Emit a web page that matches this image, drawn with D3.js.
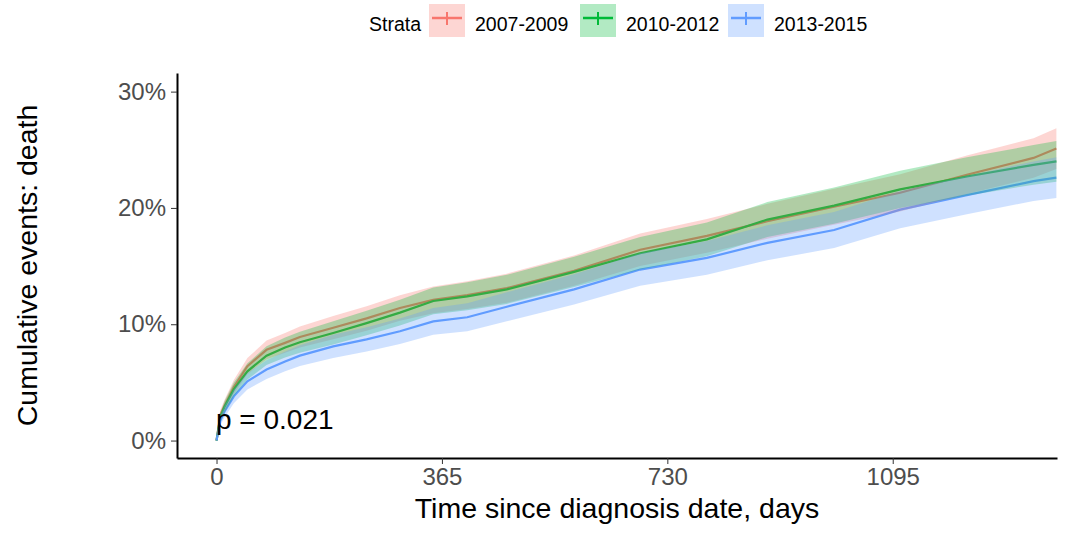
<!DOCTYPE html>
<html>
<head>
<meta charset="utf-8">
<script src="https://cdn.jsdelivr.net/npm/d3@7"></script>
<style>
  body { margin: 0; background: #fff; }
  svg { font-family: "Liberation Sans", Arial, sans-serif; }
</style>
</head>
<body>
<svg width="1066" height="533"></svg>
<script>
// time points (days)
var days = [0, 6, 13, 28, 50, 81, 111, 135, 189, 243, 297, 351, 406, 470, 579, 686, 794, 892, 1000, 1107, 1215, 1323, 1360];

// cumulative events (%) per strata
var est2007 = [0, 2.2, 3.0, 4.6, 6.4, 7.8, 8.4, 8.9, 9.7, 10.5, 11.4, 12.1, 12.5, 13.1, 14.6, 16.4, 17.6, 18.85, 20.1, 21.3, 22.85, 24.3, 25.1];
var lo2007  = [0, 1.8, 2.5, 4.0, 5.7, 7.0, 7.55, 8.0, 8.7, 9.45, 10.3, 10.95, 11.3, 11.85, 13.3, 15.0, 16.15, 17.35, 18.55, 19.7, 21.2, 22.6, 23.35];
var hi2007  = [0, 2.6, 3.5, 5.2, 7.1, 8.6, 9.25, 9.8, 10.7, 11.55, 12.5, 13.25, 13.7, 14.35, 15.9, 17.8, 19.05, 20.35, 21.65, 22.9, 24.5, 26.0, 26.85];

var est2010 = [0, 2.0, 2.9, 4.4, 5.95, 7.3, 8.0, 8.45, 9.25, 10.1, 11.0, 12.0, 12.4, 13.0, 14.5, 16.1, 17.3, 19.0, 20.2, 21.6, 22.7, 23.7, 24.0];
var lo2010  = [0, 1.6, 2.4, 3.8, 5.25, 6.5, 7.15, 7.55, 8.25, 9.05, 9.9, 10.85, 11.2, 11.75, 13.2, 14.7, 15.85, 17.5, 18.65, 20.0, 21.05, 22.0, 22.25];
var hi2010  = [0, 2.4, 3.4, 5.0, 6.65, 8.1, 8.85, 9.35, 10.25, 11.15, 12.1, 13.15, 13.6, 14.25, 15.8, 17.5, 18.75, 20.5, 21.75, 23.2, 24.35, 25.4, 25.75];

var est2013 = [0, 1.7, 2.5, 3.8, 5.1, 6.1, 6.8, 7.3, 8.1, 8.7, 9.4, 10.25, 10.6, 11.5, 13.0, 14.7, 15.7, 17.0, 18.1, 19.85, 21.1, 22.3, 22.6];
var lo2013  = [0, 1.3, 2.0, 3.2, 4.4, 5.3, 5.95, 6.4, 7.1, 7.65, 8.3, 9.1, 9.4, 10.25, 11.7, 13.3, 14.25, 15.5, 16.55, 18.25, 19.45, 20.6, 20.85];
var hi2013  = [0, 2.1, 3.0, 4.4, 5.8, 6.9, 7.65, 8.2, 9.1, 9.75, 10.5, 11.4, 11.8, 12.75, 14.3, 16.1, 17.15, 18.5, 19.65, 21.45, 22.75, 24.0, 24.35];

var strataNames = ['2007-2009', '2010-2012', '2013-2015'];
var strataColors = ['#F8766D', '#00BA38', '#619CFF'];
var xTicks = [0, 365, 730, 1095];
var yTicks = [0, 10, 20, 30];

var strata = [
  { name: strataNames[0], color: strataColors[0], est: est2007, lo: lo2007, hi: hi2007 },
  { name: strataNames[1], color: strataColors[1], est: est2010, lo: lo2010, hi: hi2010 },
  { name: strataNames[2], color: strataColors[2], est: est2013, lo: lo2013, hi: hi2013 }
];

var svg = d3.select('svg');
var pLeft = 177, pRight = 1057, pTop = 73, pBottom = 458;

var x = d3.scaleLinear().domain([-64, 1361]).range([pLeft, pRight]);
var y = d3.scaleLinear().domain([-1.5, 31.6]).range([pBottom, pTop]);

var line = function (s) {
  return d3.line()
    .x(function (d, i) { return x(days[i]); })
    .y(function (d) { return y(d); })(s.est);
};
var band = function (s) {
  return d3.area()
    .x(function (d, i) { return x(days[i]); })
    .y0(function (d, i) { return y(s.lo[i]); })
    .y1(function (d, i) { return y(s.hi[i]); })(s.est);
};

//* lines first, ribbons drawn over them like the original
svg.selectAll('.km').data(strata).enter().append('path')
  .attr('class', 'km')
  .attr('d', line)
  .attr('fill', 'none')
  .attr('stroke', function (d) { return d.color; })
  .attr('stroke-width', 2.2);

svg.selectAll('.ci').data(strata).enter().append('path')
  .attr('class', 'ci')
  .attr('d', band)
  .attr('fill', function (d) { return d.color; })
  .attr('fill-opacity', 0.3);

//* axes
var xAxis = svg.append('g')
  .attr('transform', 'translate(0,' + pBottom + ')')
  .call(d3.axisBottom(x).tickValues(xTicks).tickSize(6).tickPadding(4).tickSizeOuter(0)
    .tickFormat(d3.format('d')));
var yAxis = svg.append('g')
  .attr('transform', 'translate(' + pLeft + ',0)')
  .call(d3.axisLeft(y).tickValues(yTicks).tickSize(6).tickPadding(5).tickSizeOuter(0)
    .tickFormat(function (d) { return d + '%'; }));

[xAxis, yAxis].forEach(function (a) {
  a.select('.domain').attr('stroke', '#000').attr('stroke-width', 2);
  a.selectAll('.tick line').attr('stroke', '#333').attr('stroke-width', 1);
  a.selectAll('.tick text').attr('fill', '#4d4d4d').style('font-size', '24px')
    .style('font-family', '"Liberation Sans", Arial, sans-serif');
});

//* titles
svg.append('text')
  .attr('x', (pLeft + pRight) / 2).attr('y', 518)
  .attr('text-anchor', 'middle')
  .style('font-size', '28.5px')
  .text('Time since diagnosis date, days');

svg.append('text')
  .attr('transform', 'translate(37,' + ((pTop + pBottom) / 2) + ') rotate(-90)')
  .attr('text-anchor', 'middle')
  .style('font-size', '28.5px')
  .text('Cumulative events: death');

svg.append('text')
  .attr('x', 216).attr('y', 429)
  .style('font-size', '28px')
  .text('p = 0.021');

//* legend
svg.append('text')
  .attr('x', 369).attr('y', 31)
  .style('font-size', '19.5px')
  .text('Strata');

var keyX = [429, 580, 728];
var legend = svg.selectAll('.legend').data(strata).enter().append('g')
  .attr('class', 'legend')
  .attr('transform', function (d, i) { return 'translate(' + keyX[i] + ',0)'; });

legend.append('rect')
  .attr('x', 0).attr('y', 4)
  .attr('width', 36).attr('height', 33)
  .attr('fill', function (d) { return d.color; })
  .attr('fill-opacity', 0.3);
legend.append('line')
  .attr('x1', 3).attr('x2', 33).attr('y1', 18).attr('y2', 18)
  .attr('stroke', function (d) { return d.color; })
  .attr('stroke-width', 2.5);
legend.append('line')
  .attr('x1', 18).attr('x2', 18).attr('y1', 12).attr('y2', 25)
  .attr('stroke', function (d) { return d.color; })
  .attr('stroke-width', 2);
legend.append('text')
  .attr('x', 46).attr('y', 31)
  .style('font-size', '19.5px')
  .text(function (d) { return d.name; });
</script>
</body>
</html>
